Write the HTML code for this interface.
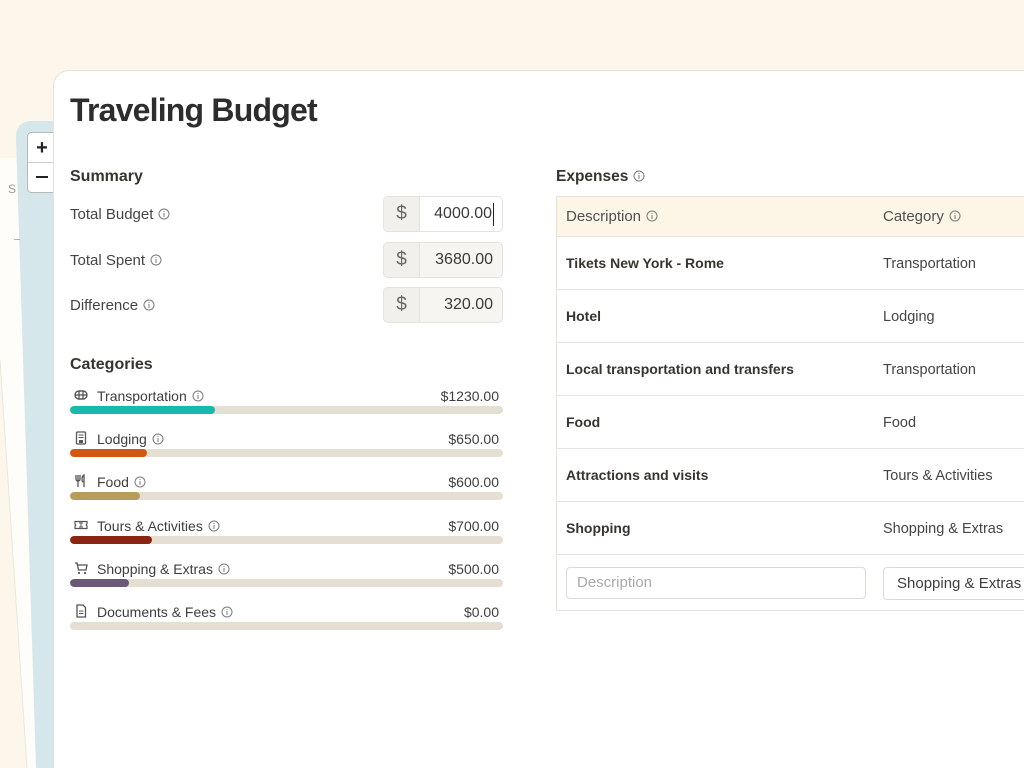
<!DOCTYPE html>
<html><head><meta charset="utf-8">
<style>
*{margin:0;padding:0;box-sizing:border-box;}
html,body{width:1024px;height:768px;overflow:hidden;background:#fdf6ea;font-family:"Liberation Sans",Arial,sans-serif;color:#3b3b3b;}
#wrap{position:relative;width:1024px;height:768px;overflow:hidden;background:#fdf6ea;}
.a{position:absolute;white-space:nowrap;line-height:20px;}
.card{position:absolute;left:53px;top:70px;width:971px;height:698px;background:#fff;border:1px solid #e6e2dc;border-right:none;border-bottom:none;border-radius:16px 0 0 0;}
.h{font-weight:bold;font-size:16px;color:#37352f;}
.lab{font-size:15px;color:#454545;}
.ii{display:inline-block;width:12px;height:12px;vertical-align:-1px;margin-left:5px;}
.box{position:absolute;left:383px;width:120px;height:36px;border:1px solid #e5e1db;border-radius:5px;background:#f7f5f1;overflow:hidden;}
.box .d{position:absolute;left:0;top:0;width:36px;height:34px;background:#f2f0ec;border-right:1px solid #e5e1db;text-align:center;line-height:34px;font-size:19px;color:#666;}
.box .v{position:absolute;right:9px;top:0;line-height:34px;font-size:16px;color:#3a3a3a;}
.cat{font-size:14px;color:#3e3e3e;}
.ico{position:absolute;left:74px;width:14px;height:14px;}
.val{position:absolute;right:525px;font-size:14px;color:#3e3e3e;line-height:20px;}
.bar{position:absolute;left:70px;width:433px;height:8px;border-radius:4px;background:#e5dfd3;overflow:hidden;}
.bar i{position:absolute;left:0;top:0;height:8px;border-radius:4px;display:block;}
.tbl{position:absolute;left:556px;top:196px;width:468px;height:415px;border:1px solid #e6e3de;border-right:none;overflow:hidden;}
.thd{position:absolute;left:0;top:0;width:100%;height:40px;background:#fdf5e6;border-bottom:1px solid #e6e3de;}
.row{position:absolute;left:0;width:100%;height:53px;border-bottom:1px solid #e6e3de;}
.row .d{position:absolute;left:9px;top:16px;font-weight:bold;font-size:14px;color:#37352f;line-height:20px;white-space:nowrap;}
.row .c{position:absolute;left:326px;top:17px;font-size:14.5px;color:#454545;line-height:20px;white-space:nowrap;}
</style></head><body>
<div id="wrap">

<svg style="position:absolute;left:0;top:0" width="60" height="768">
  <polygon points="0,158 20,158 40,768 0,768" fill="#fffdf9"/>
  <polygon points="0,360 27,768 0,768" fill="#fdf6ea"/>
  <line x1="0" y1="360" x2="27" y2="768" stroke="#ece7dd" stroke-width="1"/>
  <path d="M16,138 Q16,121 32,121 L60,121 L60,768 L36,768 Z" fill="#d5e7ea"/>
  <rect x="27.5" y="132.5" width="40" height="60" rx="4" fill="#fff" stroke="#b9b9b9"/>
  <line x1="28" y1="162.5" x2="60" y2="162.5" stroke="#cfcfcf"/>
  <text x="42" y="154" font-family="Liberation Sans" font-weight="bold" font-size="20" text-anchor="middle" fill="#222">+</text>
  <rect x="36" y="176" width="12" height="2" fill="#222"/>
  <text x="12" y="193" font-family="Liberation Sans" font-size="12" text-anchor="middle" fill="#9a9a9a">S</text>
  <rect x="14" y="239" width="6" height="1" fill="#b0b0b0"/>
</svg>

<div class="card"></div>

<div class="a" style="left:70px;top:90px;line-height:40px;font-size:32px;font-weight:bold;color:#2d2d2d;letter-spacing:-0.8px;">Traveling Budget</div>

<div class="a h" style="left:70px;top:167px;">Summary</div>

<div class="a lab" style="left:70px;top:205px;">Total Budget<svg class="ii" viewBox="0 0 12 12"><circle cx="6" cy="6" r="5" fill="none" stroke="#7a7a7a" stroke-width="1"/><rect x="5.5" y="5" width="1" height="4" fill="#7a7a7a"/><rect x="5.5" y="3" width="1" height="1" fill="#7a7a7a"/></svg></div>
<div class="a lab" style="left:70px;top:251px;">Total Spent<svg class="ii" viewBox="0 0 12 12"><circle cx="6" cy="6" r="5" fill="none" stroke="#7a7a7a" stroke-width="1"/><rect x="5.5" y="5" width="1" height="4" fill="#7a7a7a"/><rect x="5.5" y="3" width="1" height="1" fill="#7a7a7a"/></svg></div>
<div class="a lab" style="left:70px;top:296px;">Difference<svg class="ii" viewBox="0 0 12 12"><circle cx="6" cy="6" r="5" fill="none" stroke="#7a7a7a" stroke-width="1"/><rect x="5.5" y="5" width="1" height="4" fill="#7a7a7a"/><rect x="5.5" y="3" width="1" height="1" fill="#7a7a7a"/></svg></div>

<div class="box" style="top:196px;background:#fff;"><div class="d">$</div><div class="v" style="right:10px;">4000.00</div><div style="position:absolute;left:109px;top:6px;width:1px;height:23px;background:#222;"></div></div>
<div class="box" style="top:242px;"><div class="d">$</div><div class="v">3680.00</div></div>
<div class="box" style="top:287px;"><div class="d">$</div><div class="v">320.00</div></div>

<div class="a h" style="left:70px;top:355px;">Categories</div>

<!-- Transportation -->
<svg class="ico" style="top:388px" viewBox="0 0 14 14"><rect x="1" y="3" width="12" height="8" rx="4" fill="none" stroke="#555" stroke-width="1.4"/><line x1="1" y1="7" x2="13" y2="7" stroke="#555" stroke-width="1.3"/><line x1="5" y1="3" x2="5" y2="11" stroke="#555" stroke-width="1.3"/><line x1="9" y1="3" x2="9" y2="11" stroke="#555" stroke-width="1.3"/></svg>
<div class="a cat" style="left:97px;top:386px;">Transportation<svg class="ii" viewBox="0 0 12 12"><circle cx="6" cy="6" r="5" fill="none" stroke="#7a7a7a" stroke-width="1"/><rect x="5.5" y="5" width="1" height="4" fill="#7a7a7a"/><rect x="5.5" y="3" width="1" height="1" fill="#7a7a7a"/></svg></div>
<div class="val" style="top:386px;">$1230.00</div>
<div class="bar" style="top:406px;"><i style="width:145px;background:#17b9ab;"></i></div>

<!-- Lodging -->
<svg class="ico" style="top:431px" viewBox="0 0 14 14"><rect x="2.5" y="1" width="9" height="12" rx="1" fill="none" stroke="#555" stroke-width="1.3"/><line x1="4.5" y1="4" x2="9.5" y2="4" stroke="#555"/><line x1="4.5" y1="6.5" x2="9.5" y2="6.5" stroke="#555"/><rect x="5" y="9" width="4" height="3" fill="#555"/></svg>
<div class="a cat" style="left:97px;top:429px;">Lodging<svg class="ii" viewBox="0 0 12 12"><circle cx="6" cy="6" r="5" fill="none" stroke="#7a7a7a" stroke-width="1"/><rect x="5.5" y="5" width="1" height="4" fill="#7a7a7a"/><rect x="5.5" y="3" width="1" height="1" fill="#7a7a7a"/></svg></div>
<div class="val" style="top:429px;">$650.00</div>
<div class="bar" style="top:449px;"><i style="width:77px;background:#d2570f;"></i></div>

<!-- Food -->
<svg class="ico" style="top:474px" viewBox="0 0 14 14"><path d="M2,1 V5 Q2,7 4,7 Q6,7 6,5 V1 M4,1 V13" fill="none" stroke="#555" stroke-width="1.3"/><path d="M10,13 V1 Q8,2 8,6 Q8,8 10,8" fill="none" stroke="#555" stroke-width="1.3"/></svg>
<div class="a cat" style="left:97px;top:472px;">Food<svg class="ii" viewBox="0 0 12 12"><circle cx="6" cy="6" r="5" fill="none" stroke="#7a7a7a" stroke-width="1"/><rect x="5.5" y="5" width="1" height="4" fill="#7a7a7a"/><rect x="5.5" y="3" width="1" height="1" fill="#7a7a7a"/></svg></div>
<div class="val" style="top:472px;">$600.00</div>
<div class="bar" style="top:492px;"><i style="width:70px;background:#b89d5a;"></i></div>

<!-- Tours -->
<svg class="ico" style="top:518px" viewBox="0 0 14 14"><path d="M1,3.5 H13 V6 Q11.5,7 13,8 V10.5 H1 V8 Q2.5,7 1,6 Z" fill="none" stroke="#555" stroke-width="1.2"/><line x1="5" y1="5" x2="9" y2="5" stroke="#555"/><line x1="5" y1="9" x2="9" y2="9" stroke="#555"/><line x1="7" y1="5" x2="7" y2="9" stroke="#555"/></svg>
<div class="a cat" style="left:97px;top:516px;">Tours &amp; Activities<svg class="ii" viewBox="0 0 12 12"><circle cx="6" cy="6" r="5" fill="none" stroke="#7a7a7a" stroke-width="1"/><rect x="5.5" y="5" width="1" height="4" fill="#7a7a7a"/><rect x="5.5" y="3" width="1" height="1" fill="#7a7a7a"/></svg></div>
<div class="val" style="top:516px;">$700.00</div>
<div class="bar" style="top:536px;"><i style="width:82px;background:#8a2511;"></i></div>

<!-- Shopping -->
<svg class="ico" style="top:561px" viewBox="0 0 14 14"><path d="M1,2 H3 L4.5,9 H12 L13,4 H3.5" fill="none" stroke="#555" stroke-width="1.3"/><circle cx="5" cy="12" r="1.1" fill="#555"/><circle cx="11" cy="12" r="1.1" fill="#555"/></svg>
<div class="a cat" style="left:97px;top:559px;">Shopping &amp; Extras<svg class="ii" viewBox="0 0 12 12"><circle cx="6" cy="6" r="5" fill="none" stroke="#7a7a7a" stroke-width="1"/><rect x="5.5" y="5" width="1" height="4" fill="#7a7a7a"/><rect x="5.5" y="3" width="1" height="1" fill="#7a7a7a"/></svg></div>
<div class="val" style="top:559px;">$500.00</div>
<div class="bar" style="top:579px;"><i style="width:59px;background:#6d5877;"></i></div>

<!-- Documents -->
<svg class="ico" style="top:604px" viewBox="0 0 14 14"><path d="M3,1 H9 L11.5,3.5 V13 H3 Z" fill="none" stroke="#555" stroke-width="1.3"/><line x1="5" y1="7" x2="9.5" y2="7" stroke="#555"/><line x1="5" y1="9.5" x2="9.5" y2="9.5" stroke="#555"/></svg>
<div class="a cat" style="left:97px;top:602px;">Documents &amp; Fees<svg class="ii" viewBox="0 0 12 12"><circle cx="6" cy="6" r="5" fill="none" stroke="#7a7a7a" stroke-width="1"/><rect x="5.5" y="5" width="1" height="4" fill="#7a7a7a"/><rect x="5.5" y="3" width="1" height="1" fill="#7a7a7a"/></svg></div>
<div class="val" style="top:602px;">$0.00</div>
<div class="bar" style="top:622px;"></div>

<!-- Expenses -->
<div class="a h" style="left:556px;top:167px;font-size:15.5px;">Expenses<svg class="ii" viewBox="0 0 12 12"><circle cx="6" cy="6" r="5" fill="none" stroke="#7a7a7a" stroke-width="1"/><rect x="5.5" y="5" width="1" height="4" fill="#7a7a7a"/><rect x="5.5" y="3" width="1" height="1" fill="#7a7a7a"/></svg></div>

<div class="tbl">
  <div class="thd">
    <div class="a" style="left:9px;top:10px;font-size:15px;color:#505050;">Description<svg class="ii" viewBox="0 0 12 12"><circle cx="6" cy="6" r="5" fill="none" stroke="#7a7a7a" stroke-width="1"/><rect x="5.5" y="5" width="1" height="4" fill="#7a7a7a"/><rect x="5.5" y="3" width="1" height="1" fill="#7a7a7a"/></svg></div>
    <div class="a" style="left:326px;top:10px;font-size:15px;color:#505050;">Category<svg class="ii" viewBox="0 0 12 12"><circle cx="6" cy="6" r="5" fill="none" stroke="#7a7a7a" stroke-width="1"/><rect x="5.5" y="5" width="1" height="4" fill="#7a7a7a"/><rect x="5.5" y="3" width="1" height="1" fill="#7a7a7a"/></svg></div>
  </div>
  <div class="row" style="top:40px;"><div class="d">Tikets New York - Rome</div><div class="c">Transportation</div></div>
  <div class="row" style="top:93px;"><div class="d">Hotel</div><div class="c">Lodging</div></div>
  <div class="row" style="top:146px;"><div class="d">Local transportation and transfers</div><div class="c">Transportation</div></div>
  <div class="row" style="top:199px;"><div class="d">Food</div><div class="c">Food</div></div>
  <div class="row" style="top:252px;"><div class="d">Attractions and visits</div><div class="c">Tours &amp; Activities</div></div>
  <div class="row" style="top:305px;"><div class="d">Shopping</div><div class="c">Shopping &amp; Extras</div></div>
  <div style="position:absolute;left:9px;top:370px;width:300px;height:32px;border:1px solid #dedbd6;border-radius:4px;background:#fff;">
    <div class="a" style="left:10px;top:5px;font-size:15px;color:#aaa;">Description</div>
  </div>
  <div style="position:absolute;left:326px;top:370px;width:141px;height:33px;border:1px solid #dedbd6;border-right:none;border-radius:4px 0 0 4px;background:#fff;overflow:hidden;">
    <div class="a" style="left:13px;top:6px;font-size:15px;color:#3e3e3e;">Shopping &amp; Extras</div>
  </div>
</div>

</div>
</body></html>
